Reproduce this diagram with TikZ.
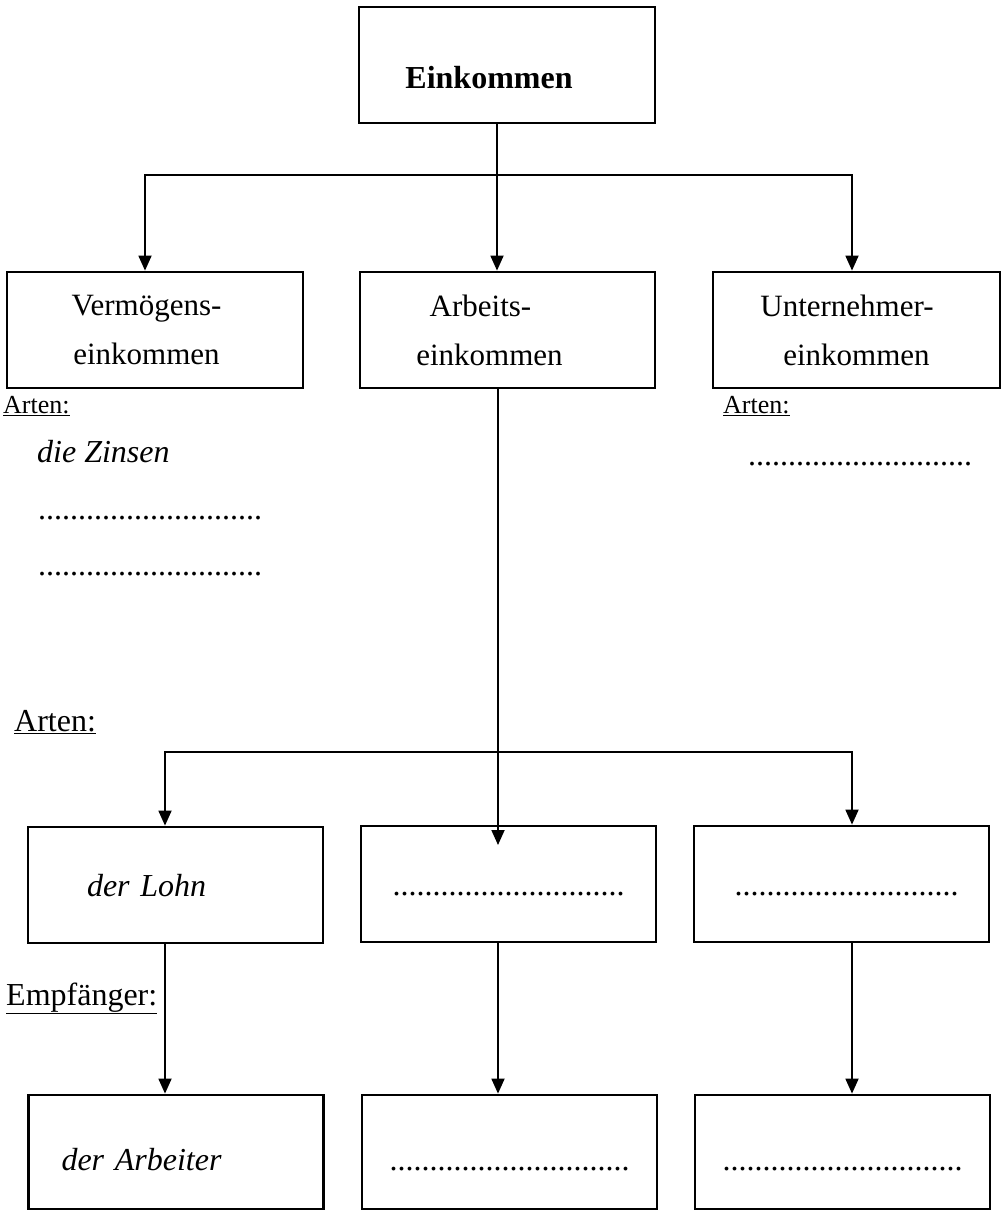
\documentclass[tikz,border=0pt]{standalone}
\usepackage{fontspec}
\setmainfont{Liberation Serif}
\usetikzlibrary{arrows.meta}
\begin{document}
\begin{tikzpicture}[x=1pt,y=-1pt,
  box/.style={draw, line width=2.8pt, inner sep=0pt, align=center,
              font=\fontsize{31}{49}\selectfont},
  rowbox/.style={box, minimum width=295pt, minimum height=116pt,
                 text height=22pt, text depth=0pt},
  line/.style={line width=1.8pt},
  conn/.style={line width=1.8pt, -{Triangle[width=13pt,length=15pt]}},
  lbl/.style={anchor=base west, inner sep=0pt},
  big/.style={font=\fontsize{32}{38}\selectfont},
  small/.style={font=\fontsize{26}{30}\selectfont},
  dots/.style={font=\fontsize{32}{38}\selectfont}
]
\useasboundingbox[fill=white] (0,0) rectangle (1002,1210);

% column positions of the connectors
\coordinate (t1) at (145,0);
\coordinate (t2) at (497,0);
\coordinate (t3) at (852,0);
\coordinate (c1) at (165,0);
\coordinate (c2) at (498,0);
\coordinate (c3) at (852,0);

% top level
\node[box, minimum width=296pt, minimum height=116pt,
      text height=46pt, text depth=0pt,
      font=\fontsize{32}{38}\selectfont\bfseries] (ein) at (507,65) {\hspace*{-36pt}Einkommen};

% second level
\node[box, minimum width=296pt, minimum height=116pt] (verm) at (155,330)
  {\hspace*{-17pt}Vermögens-\\\hspace*{-17pt}einkommen};
\node[box, minimum width=295pt, minimum height=116pt] (arb) at (507.5,330)
  {\hspace*{-54pt}Arbeits-\\\hspace*{-36pt}einkommen};
\node[box, minimum width=287pt, minimum height=116pt] (unt) at (856.5,330)
  {\hspace*{-19pt}Unternehmer-\\einkommen};

\coordinate (j1) at (497,175);
\draw[line] (ein.south -| t2) -- (j1);
\draw[conn] (j1) -| (verm.north -| t1);
\draw[conn] (j1) -- (arb.north -| t2);
\draw[conn] (j1) -| (unt.north -| t3);

% kinds of property income
\node[lbl, small] (artV) at (3,413) {\underline{Arten:}};
\node[lbl, font=\fontsize{32}{38}\selectfont\itshape] (zins) at (37,462) {die Zinsen};
\node[lbl, dots] (dotV1) at (38,519) {............................};
\node[lbl, dots] (dotV2) at (38,575) {............................};

% kinds of entrepreneurial income
\node[lbl, small] (artU) at (723,413) {\underline{Arten:}};
\node[lbl, dots] (dotU) at (748,465) {............................};

% kinds of labour income
\node[lbl, big] (artA) at (14,731) {\underline{Arten:}};

\node[rowbox, align=left, inner xsep=59pt, text width=177pt,
      font=\fontsize{32}{38}\selectfont\itshape] (lohn) at (175.5,885) {der Lohn};
\node[rowbox, dots] (artM) at (508.5,884) {.............................};
\node[rowbox, dots] (artR) at (841.5,884) {\hspace*{10pt}............................};

\coordinate (j2) at (498,752);
\coordinate (tipM) at (498,845);
\draw[conn] (arb.south -| c2) -- (tipM);
\draw[conn] (j2) -| (lohn.north -| c1);
\draw[conn] (j2) -| (artR.north -| c3);

% recipients
\node[lbl, big] (empf) at (6,1005) {\underline{Empfänger:}};

\node[rowbox, minimum height=114pt, text height=36pt, align=left,
      inner xsep=33pt, text width=229pt,
      font=\fontsize{32}{38}\selectfont\itshape] (arbtr) at (176,1152) {der Arbeiter};
\node[rowbox, minimum height=114pt, text height=36pt, dots] (empM) at (509.5,1152) {..............................};
\node[rowbox, minimum height=114pt, text height=36pt, dots] (empR) at (842.5,1152) {..............................};

\draw[conn] (lohn.south -| c1) -- (arbtr.north -| c1);
\draw[conn] (artM.south -| c2) -- (empM.north -| c2);
\draw[conn] (artR.south -| c3) -- (empR.north -| c3);
\end{tikzpicture}
\end{document}
